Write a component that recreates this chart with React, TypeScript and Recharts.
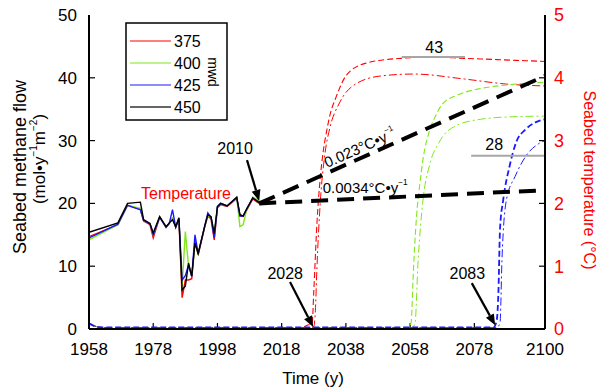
import React from 'react'
import {
  ComposedChart,
  Line,
  ReferenceDot,
  ReferenceLine,
  XAxis,
  YAxis,
} from 'recharts'

// Seabed methane flow vs. time, with seabed temperature history and
// two warming scenarios. Left axis = flow, right axis = temperature.

const FONT = '"Liberation Sans", Arial, Helvetica, sans-serif'

const YEAR_TICKS = [1958, 1978, 1998, 2018, 2038, 2058, 2078, 2100]
const FLOW_TICKS = [0, 10, 20, 30, 40, 50]
const TEMP_TICKS = [0, 1, 2, 3, 4, 5]

const DEPTHS = ['375', '400', '425', '450']
const DEPTH_COLORS = ['#ff0000', '#7ee81a', '#1a1aff', '#000000']

// observed seabed temperature (°C), one series per water depth
const HIST_YEARS = [
  1958, 1967, 1970, 1974, 1975, 1977, 1978, 1980, 1982, 1983, 1984, 1985,
  1986, 1987, 1988, 1989, 1990, 1991, 1992, 1994, 1995, 1996, 1997, 1998,
  1999, 2001, 2004, 2005, 2006, 2007, 2009, 2011,
]
const TEMP_375 = [
  1.47, 1.66, 1.97, 1.9, 1.72, 1.66, 1.45, 1.78, 1.62, 1.68, 1.76, 1.62,
  1.75, 0.5, 0.78, 0.78, 0.8, 1.4, 1.18, 1.62, 1.8, 1.75, 1.42, 1.93,
  1.98, 1.95, 2.08, 1.8, 1.79, 1.88, 2.07, 2.0,
]
const TEMP_400 = [
  1.42, 1.66, 1.97, 1.92, 1.73, 1.67, 1.5, 1.78, 1.62, 1.68, 1.76, 1.62,
  1.76, 0.68, 1.55, 1.0, 0.84, 1.38, 1.2, 1.63, 1.81, 1.78, 1.5, 1.95,
  2.0, 1.96, 2.09, 1.63, 1.66, 1.88, 2.1, 2.05,
]
const TEMP_425 = [
  1.45, 1.67, 1.97, 1.9, 1.73, 1.67, 1.5, 1.78, 1.62, 1.68, 1.9, 1.62,
  1.76, 0.78, 0.85, 1.02, 0.84, 1.5, 1.2, 1.63, 1.85, 1.78, 1.45, 1.95,
  2.0, 1.96, 2.09, 1.8, 1.8, 1.9, 2.08, 2.02,
]
const TEMP_450 = [
  1.54, 1.69, 2.0, 2.02, 1.74, 1.68, 1.53, 1.79, 1.63, 1.69, 1.74, 1.63,
  1.77, 0.62, 0.68, 1.05, 0.84, 1.37, 1.2, 1.63, 1.82, 1.79, 1.52, 1.95,
  2.0, 1.96, 2.1, 1.82, 1.8, 1.9, 2.09, 2.01,
]

// projected temperature, 2011 -> 2100
const TREND_YEARS = [2011, 2100]
const TREND_FAST = [2.0, 4.03] // 0.023 °C/y
const TREND_SLOW = [2.0, 2.21] // 0.0034 °C/y

// seabed methane flow (mol/y/m2); A = dashed, B = dash-dot
const FLOW_375A_YEARS = [1958, 1961, 1964, 2024, 2026, 2027.5, 2028, 2029, 2030, 2031, 2032, 2033, 2035, 2038, 2044, 2055, 2065, 2075, 2085, 2100]
const FLOW_375A = [0.9, 0.3, 0.2, 0.2, 0.6, 1.0, 6, 17, 24, 28.5, 31.5, 34, 37, 40.3, 42.3, 43.1, 43.3, 43.1, 42.9, 42.6]
const FLOW_375B_YEARS = [1958, 1961, 1964, 2026, 2028, 2028.5, 2029, 2030, 2031.5, 2033, 2036, 2041, 2049, 2059, 2075, 2088, 2100]
const FLOW_375B = [0.9, 0.3, 0.2, 0.2, 0.4, 3, 10, 20, 28, 32, 36, 39, 40.3, 40.6, 39.8, 39, 38.7]
const FLOW_400A_YEARS = [1958, 1961, 1964, 2057.5, 2058.3, 2059, 2060, 2061, 2062, 2064, 2066, 2068, 2073, 2080, 2089, 2100]
const FLOW_400A = [0.9, 0.3, 0.2, 0.2, 1, 9, 18, 23, 27, 31.5, 34, 35.8, 37.3, 38.3, 38.9, 39.3]
const FLOW_400B_YEARS = [1958, 1961, 1964, 2058.5, 2059.5, 2060.5, 2062, 2064, 2067, 2072, 2080, 2090, 2100]
const FLOW_400B = [0.9, 0.3, 0.2, 0.2, 0.8, 11, 20.5, 26, 29.7, 32.3, 33.4, 33.8, 33.9]
const FLOW_425A_YEARS = [1958, 1961, 1964, 2084, 2085, 2085.5, 2086, 2087, 2089, 2091, 2094, 2097, 2100]
const FLOW_425A = [0.9, 0.3, 0.25, 0.25, 1.5, 6, 16, 20.6, 26, 29.7, 31.8, 32.9, 33.4]
const FLOW_425B_YEARS = [1958, 1961, 1964, 2085, 2086, 2086.6, 2088, 2090.7, 2094, 2098, 2100]
const FLOW_425B = [0.9, 0.3, 0.2, 0.2, 1, 11, 20.6, 24.3, 27.5, 29.5, 30]

const pts = (xs: number[], ys: number[]) =>
  xs.map((year, i) => ({ year, value: ys[i] }))

const DASH = '6 3'
const DASH_DOT = '8 3 2 3'
const TICK_LEN = 6

function Arrow(props: any) {
  const { x1, y1, x2, y2 } = props
  const dx = x2 - x1
  const dy = y2 - y1
  const len = Math.hypot(dx, dy) || 1
  const ux = dx / len
  const uy = dy / len
  const head = 11
  const half = 4.5
  const bx = x2 - ux * head
  const by = y2 - uy * head
  return (
    <g>
      <line x1={x1} y1={y1} x2={bx} y2={by} stroke="#000" strokeWidth={2.2} />
      <polygon
        points={`${x2},${y2} ${bx - uy * half},${by + ux * half} ${bx + uy * half},${by - ux * half}`}
        fill="#000"
      />
    </g>
  )
}

// inward tick marks, drawn at each tick value through the axis scales
function InnerTick(props: any) {
  const { x1, y1, x2, y2, side } = props
  if (side === 'bottom') return <line x1={x1} x2={x1} y1={y1} y2={y1 - TICK_LEN} stroke="#000" strokeWidth={1.2} />
  if (side === 'left') return <line x1={x1} x2={x1 + TICK_LEN} y1={y1} y2={y1} stroke="#000" strokeWidth={1.2} />
  return <line x1={x2} x2={x2 - TICK_LEN} y1={y2} y2={y2} stroke="#000" strokeWidth={1.2} />
}

function note(text: string, opts: { color?: string; size?: number; angle?: number; sup?: string } = {}) {
  const { color = '#000', size = 15, angle = 0, sup } = opts
  return (p: any) => (
    <text
      x={p.cx}
      y={p.cy}
      textAnchor="middle"
      dominantBaseline="central"
      fontFamily={FONT}
      fontSize={size}
      fill={color}
      transform={angle ? `rotate(${angle} ${p.cx} ${p.cy})` : undefined}
    >
      {text}
      {sup && (
        <tspan fontSize={size * 0.55} dy={-size * 0.35}>
          {sup}
        </tspan>
      )}
    </text>
  )
}

function Legend() {
  return (
    <svg width={104} height={100} style={{ position: 'absolute', left: 125, top: 22 }}>
      <rect x={1} y={1} width={101} height={97} fill="#fff" stroke="#000" strokeWidth={1.5} />
      {DEPTHS.map((d, i) => (
        <g key={d}>
          <line
            x1={5}
            x2={46}
            y1={19 + i * 22}
            y2={19 + i * 22}
            stroke={i === 3 ? '#333' : DEPTH_COLORS[i]}
            strokeWidth={i === 3 ? 1.6 : 1.2}
          />
          <text x={49} y={19 + i * 22} dominantBaseline="central" fontFamily={FONT} fontSize={16} fill="#000">
            {d}
          </text>
        </g>
      ))}
      <text x={88} y={50} textAnchor="middle" dominantBaseline="central" fontFamily={FONT} fontSize={14} transform="rotate(90 88 50)">
        mwd
      </text>
    </svg>
  )
}

function AxisTitles() {
  return (
    <svg width={598} height={391} style={{ position: 'absolute', left: 0, top: 0, pointerEvents: 'none' }}>
      <text x={20} y={167} textAnchor="middle" dominantBaseline="central" fontFamily={FONT} fontSize={18} transform="rotate(-90 20 167)">
        Seabed methane flow
      </text>
      <text x={39} y={159} textAnchor="middle" dominantBaseline="central" fontFamily={FONT} fontSize={17} transform="rotate(-90 39 159)">
        (mol•y
        <tspan fontSize={10} dy={-6}>−1</tspan>
        <tspan dy={6}>m</tspan>
        <tspan fontSize={10} dy={-6}>−2</tspan>
        <tspan dy={6}>)</tspan>
      </text>
      <text x={589} y={180} textAnchor="middle" dominantBaseline="central" fontFamily={FONT} fontSize={16} fill="#ff0000" transform="rotate(90 589 180)">
        Seabed temperature (°C)
      </text>
      <text x={313} y={378} textAnchor="middle" dominantBaseline="central" fontFamily={FONT} fontSize={17}>
        Time (y)
      </text>
    </svg>
  )
}

export default function App() {
  const axisLine = { stroke: '#000', strokeWidth: 2 }
  const tempLines = [TEMP_375, TEMP_400, TEMP_425, TEMP_450]
  const flowA = [
    { xs: FLOW_375A_YEARS, ys: FLOW_375A, c: DEPTH_COLORS[0] },
    { xs: FLOW_400A_YEARS, ys: FLOW_400A, c: DEPTH_COLORS[1] },
    { xs: FLOW_425A_YEARS, ys: FLOW_425A, c: DEPTH_COLORS[2] },
  ]
  const flowB = [
    { xs: FLOW_375B_YEARS, ys: FLOW_375B, c: DEPTH_COLORS[0] },
    { xs: FLOW_400B_YEARS, ys: FLOW_400B, c: DEPTH_COLORS[1] },
    { xs: FLOW_425B_YEARS, ys: FLOW_425B, c: DEPTH_COLORS[2] },
  ]
  const tickFont = { fontSize: 17, fill: '#000', fontFamily: FONT }

  return (
    <div style={{ position: 'relative', width: 598, height: 391, background: '#fff' }}>
      <style>{'body{margin:0}'}</style>
      <ComposedChart width={598} height={391} margin={{ top: 15, right: 0, bottom: 0, left: 0 }}>
        <XAxis
          xAxisId="x"
          type="number"
          dataKey="year"
          domain={[1958, 2100]}
          ticks={YEAR_TICKS}
          allowDataOverflow
          height={62}
          axisLine={axisLine}
          tickLine={false}
          tickSize={0}
          tickMargin={14}
          tick={tickFont}
        />
        <XAxis
          xAxisId="top"
          orientation="top"
          type="number"
          domain={[1958, 2100]}
          height={0}
          tick={false}
          tickLine={false}
          axisLine={axisLine}
        />
        <YAxis
          yAxisId="flow"
          orientation="left"
          domain={[0, 50]}
          ticks={FLOW_TICKS}
          width={89}
          axisLine={axisLine}
          tickLine={false}
          tickSize={0}
          tickMargin={12}
          tick={tickFont}
        />
        <YAxis
          yAxisId="temp"
          orientation="right"
          domain={[0, 5]}
          ticks={TEMP_TICKS}
          width={53}
          axisLine={axisLine}
          tickLine={false}
          tickSize={0}
          tickMargin={9}
          tick={{ fontSize: 18, fill: '#ff0000', fontFamily: FONT }}
        />

        {/* inward tick marks */}
        {YEAR_TICKS.slice(1, -1).map((t) => (
          <ReferenceLine key={`xt${t}`} xAxisId="x" yAxisId="flow" segment={[{ x: t, y: 0 }, { x: t, y: 50 }]} shape={(p: any) => <InnerTick {...p} side="bottom" />} />
        ))}
        {FLOW_TICKS.slice(1, -1).map((t) => (
          <ReferenceLine key={`yl${t}`} xAxisId="x" yAxisId="flow" segment={[{ x: 1958, y: t }, { x: 2100, y: t }]} shape={(p: any) => <InnerTick {...p} side="left" />} />
        ))}
        {TEMP_TICKS.slice(1, -1).map((t) => (
          <ReferenceLine key={`yr${t}`} xAxisId="x" yAxisId="temp" segment={[{ x: 1958, y: t }, { x: 2100, y: t }]} shape={(p: any) => <InnerTick {...p} side="right" />} />
        ))}

        {/* methane flow, dash-dot */}
        {flowB.map((s, i) => (
          <Line
            key={`b${i}`}
            xAxisId="x"
            yAxisId="flow"
            data={pts(s.xs, s.ys)}
            dataKey="value"
            type="monotone"
            stroke={s.c}
            strokeWidth={1}
            strokeDasharray={DASH_DOT}
            dot={false}
            isAnimationActive={false}
          />
        ))}
        {/* methane flow, dashed */}
        {flowA.map((s, i) => (
          <Line
            key={`a${i}`}
            xAxisId="x"
            yAxisId="flow"
            data={pts(s.xs, s.ys)}
            dataKey="value"
            type="monotone"
            stroke={s.c}
            strokeWidth={i === 2 ? 1.8 : 1.1}
            strokeDasharray={DASH}
            dot={false}
            isAnimationActive={false}
          />
        ))}

        {/* temperature history */}
        {tempLines.map((ys, i) => (
          <Line
            key={`t${i}`}
            xAxisId="x"
            yAxisId="temp"
            data={pts(HIST_YEARS, ys)}
            dataKey="value"
            type="linear"
            stroke={DEPTH_COLORS[i]}
            strokeWidth={1.4}
            dot={false}
            isAnimationActive={false}
          />
        ))}

        {/* warming scenarios */}
        <Line
          xAxisId="x"
          yAxisId="temp"
          data={pts(TREND_YEARS, TREND_FAST)}
          dataKey="value"
          type="linear"
          stroke="#000"
          strokeWidth={4}
          strokeDasharray="17 9"
          dot={false}
          isAnimationActive={false}
        />
        <Line
          xAxisId="x"
          yAxisId="temp"
          data={pts(TREND_YEARS, TREND_SLOW)}
          dataKey="value"
          type="linear"
          stroke="#000"
          strokeWidth={4}
          strokeDasharray="17 9"
          dot={false}
          isAnimationActive={false}
        />

        {/* peak markers */}
        <ReferenceLine xAxisId="x" yAxisId="flow" segment={[{ x: 2055.4, y: 43.3 }, { x: 2075.1, y: 43.3 }]} stroke="#a6a6a6" strokeWidth={2} />
        <ReferenceLine xAxisId="x" yAxisId="flow" segment={[{ x: 2077, y: 27.6 }, { x: 2100, y: 27.6 }]} stroke="#a6a6a6" strokeWidth={2} />

        {/* arrows */}
        <ReferenceLine xAxisId="x" yAxisId="flow" segment={[{ x: 2007.2, y: 26.9 }, { x: 2011, y: 20.4 }]} shape={Arrow} />
        <ReferenceLine xAxisId="x" yAxisId="flow" segment={[{ x: 2020.6, y: 7.5 }, { x: 2027.8, y: 0.3 }]} shape={Arrow} />
        <ReferenceLine xAxisId="x" yAxisId="flow" segment={[{ x: 2077.2, y: 7.3 }, { x: 2084.5, y: 0.6 }]} shape={Arrow} />

        {/* annotations */}
        <ReferenceDot xAxisId="x" yAxisId="flow" x={2003.5} y={28.8} r={0} shape={note('2010', { size: 16 })} />
        <ReferenceDot xAxisId="x" yAxisId="flow" x={1988.2} y={21.5} r={0} shape={note('Temperature', { color: '#ff0000', size: 16 })} />
        <ReferenceDot xAxisId="x" yAxisId="flow" x={2019.1} y={8.9} r={0} shape={note('2028', { size: 16 })} />
        <ReferenceDot xAxisId="x" yAxisId="flow" x={2075.8} y={8.9} r={0} shape={note('2083', { size: 16 })} />
        <ReferenceDot xAxisId="x" yAxisId="flow" x={2065.5} y={44.8} r={0} shape={note('43', { size: 16 })} />
        <ReferenceDot xAxisId="x" yAxisId="flow" x={2084.2} y={29.3} r={0} shape={note('28', { size: 16 })} />
        <ReferenceDot xAxisId="x" yAxisId="flow" x={2042.3} y={28.9} r={0} shape={note('0.023°C•y', { size: 15, angle: -24, sup: '−1' })} />
        <ReferenceDot xAxisId="x" yAxisId="flow" x={2044} y={22.5} r={0} shape={note('0.0034°C•y', { size: 15, sup: '−1' })} />
      </ComposedChart>
      <Legend />
      <AxisTitles />
    </div>
  )
}
